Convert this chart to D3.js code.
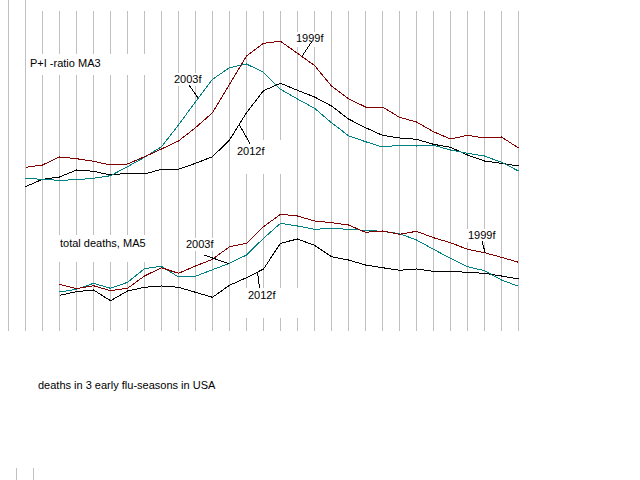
<!DOCTYPE html>
<html>
<head>
<meta charset="utf-8">
<script src="https://cdn.jsdelivr.net/npm/d3@7"></script>
<style>
  body { margin: 0; background: #fff; }
  text { font-family: "Liberation Sans", Arial, sans-serif; font-size: 11px; fill: #000; }
</style>
</head>
<body>
<div id="chart"></div>
<script>
// week slots (gridline index); upper series start at week 0, lower at week 2
const gridWeeks = d3.range(-1, 30);
const piWeeks = d3.range(0, 30);
const deathWeeks = d3.range(2, 30);

// P+I ratio, 3-week moving average (relative units)
const pi1999 = [22.7, 25, 33, 31.3, 28.7, 25, 26, 33.3, 41, 49, 62.3, 77.3, 105.7, 134, 146.7, 148.7, 136.7, 124.5, 104, 91.3, 83, 83, 72.7, 68, 58.3, 51, 54.7, 52, 53, 42];
const pi2003 = [11.7, 10.7, 9.7, 10.3, 11.7, 14.3, 23.3, 32.7, 43.3, 65, 88.3, 110.7, 122.3, 126, 117.7, 100.7, 91, 81.7, 67.3, 54.3, 48.3, 43, 44.7, 44, 44.7, 40, 36.7, 34, 27.7, 19];
const pi2012 = [3.3, 10.7, 13, 20, 18.7, 15, 16.7, 16, 20.7, 20.7, 26.7, 33.3, 50, 77.3, 99.3, 106.7, 99.7, 93, 84, 71, 62.3, 54.7, 52, 50.7, 45.7, 42.7, 35, 29, 26.7, 24];

// total deaths, 5-week moving average (relative units)
const deaths1999 = [25.7, 21.3, 24.3, 19.3, 21.7, 34, 42.3, 36.7, 44, 50.7, 63.3, 66.7, 83.3, 95.7, 94, 89, 87.3, 85, 77.7, 79, 75.7, 78.7, 72.3, 67.3, 60.7, 57.3, 52.7, 47.7];
const deaths2003 = [18, 20.7, 26.7, 21.7, 27.7, 41.3, 43.7, 33, 33.7, 40.3, 46.7, 55, 71.7, 86.7, 84, 80.7, 81.7, 80.7, 79.7, 78.7, 76.3, 70, 60.7, 51.7, 43.3, 39.3, 30, 23.7];
const deaths2012 = [14.7, 18.3, 20, 9.3, 19, 22.7, 24, 22.7, 17.7, 12.7, 24.7, 32.3, 41, 66.7, 71, 64.7, 53.3, 50, 45, 42.3, 39.7, 41, 38.7, 38.7, 37.7, 36.7, 34, 31];

const seasons = ["1999f", "2003f", "2012f"];
const colors = { "1999f": "#800000", "2003f": "#008080", "2012f": "#000000" };

const width = 640;
const height = 480;

const svg = d3.select("#chart")
    .append("svg")
    .attr("width", width)
    .attr("height", height);

// Scales
const x = d3.scaleLinear().domain([-1, 29]).range([8.5, 518.5]);
const yTop = d3.scaleLinear().domain([0, 150]).range([190, 40]);
const yBottom = d3.scaleLinear().domain([0, 100]).range([310, 210]);

// Vertical gridlines
svg.append("g")
    .selectAll("line")
    .data(gridWeeks)
    .join("line")
    .attr("x1", d => x(d))
    .attr("x2", d => x(d))
    .attr("y1", 0)
    .attr("y2", 331)
    .attr("stroke", "#c0c0c0")
    .attr("shape-rendering", "crispEdges");

// small stubs bottom-left
svg.append("g")
    .selectAll("line")
    .data([-0.5, 0.5])
    .join("line")
    .attr("x1", d => x(d) - 0.5)
    .attr("x2", d => x(d) - 0.5)
    .attr("y1", 468)
    .attr("y2", 480)
    .attr("stroke", "#c0c0c0")
    .attr("shape-rendering", "crispEdges");

// label boxes hide the gridlines behind them
const boxes = [
    [35, 0, 605, 11],
    [28, 54, 127, 21],
    [292, 32, 36, 15],
    [172, 73, 33, 13],
    [235, 140, 50, 34],
    [58, 235, 94, 27],
    [184, 238, 32, 13],
    [245, 288, 55, 30],
    [465, 229, 33, 13]
];
svg.append("g")
    .selectAll("rect")
    .data(boxes)
    .join("rect")
    .attr("x", d => d[0])
    .attr("y", d => d[1])
    .attr("width", d => d[2])
    .attr("height", d => d[3])
    .attr("fill", "#fff");

// Series
const upper = [
    { name: "1999f", values: pi1999 },
    { name: "2003f", values: pi2003 },
    { name: "2012f", values: pi2012 }
];
const lower = [
    { name: "1999f", values: deaths1999 },
    { name: "2003f", values: deaths2003 },
    { name: "2012f", values: deaths2012 }
];

const lineTop = d3.line().x((d, i) => x(piWeeks[i])).y(d => yTop(d));
const lineBottom = d3.line().x((d, i) => x(deathWeeks[i])).y(d => yBottom(d));

// draw order: 2012f, 2003f, 1999f on top like the original
svg.append("g")
    .selectAll("path")
    .data(upper.slice().reverse())
    .join("path")
    .attr("fill", "none")
    .attr("stroke", d => colors[d.name])
    .attr("stroke-width", 1)
    .attr("shape-rendering", "crispEdges")
    .attr("d", d => lineTop(d.values));

svg.append("g")
    .selectAll("path")
    .data(lower.slice().reverse())
    .join("path")
    .attr("fill", "none")
    .attr("stroke", d => colors[d.name])
    .attr("stroke-width", 1)
    .attr("shape-rendering", "crispEdges")
    .attr("d", d => lineBottom(d.values));

// value on a series at a fractional week
function valueAt(weeks, values, t) {
    const i = Math.min(Math.floor(t - weeks[0]), values.length - 2);
    const f = t - weeks[0] - i;
    return values[i] + (values[i + 1] - values[i]) * f;
}

// Annotations: text position, leader start, leader end on the curve (week)
const notes = [
    { text: "1999f", tx: 296, ty: 42, lx: 311.5, ly: 42, panel: "top", series: pi1999, t: 16.26 },
    { text: "2003f", tx: 174, ty: 83, lx: 189, ly: 85, panel: "top", series: pi2003, t: 10.16 },
    { text: "2012f", tx: 237, ty: 155, lx: 250, ly: 143.5, panel: "top", series: pi2012, t: 12.57 },
    { text: "2003f", tx: 186, ty: 248, lx: 204, ly: 255, panel: "bottom", series: deaths2003, t: 11.95 },
    { text: "2012f", tx: 248, ty: 299, lx: 259.5, ly: 288.5, panel: "bottom", series: deaths2012, t: 13.65 },
    { text: "1999f", tx: 468, ty: 239, lx: 482, ly: 241, panel: "bottom", series: deaths1999, t: 27.04 }
];

svg.append("g")
    .selectAll("line")
    .data(notes)
    .join("line")
    .attr("x1", d => d.lx)
    .attr("y1", d => d.ly)
    .attr("x2", d => x(d.t))
    .attr("y2", d => d.panel === "top"
        ? yTop(valueAt(piWeeks, d.series, d.t))
        : yBottom(valueAt(deathWeeks, d.series, d.t)))
    .attr("stroke", "#000")
    .attr("shape-rendering", "crispEdges");

svg.append("g")
    .selectAll("text")
    .data(notes)
    .join("text")
    .attr("x", d => d.tx)
    .attr("y", d => d.ty)
    .text(d => d.text);

// Panel labels and title
const titles = [
    { text: "P+I -ratio MA3", x: 30, y: 67 },
    { text: "total deaths, MA5", x: 60, y: 247 },
    { text: "deaths in 3 early flu-seasons in USA", x: 38, y: 389 }
];
svg.append("g")
    .selectAll("text")
    .data(titles)
    .join("text")
    .attr("x", d => d.x)
    .attr("y", d => d.y)
    .text(d => d.text);
</script>
</body>
</html>
